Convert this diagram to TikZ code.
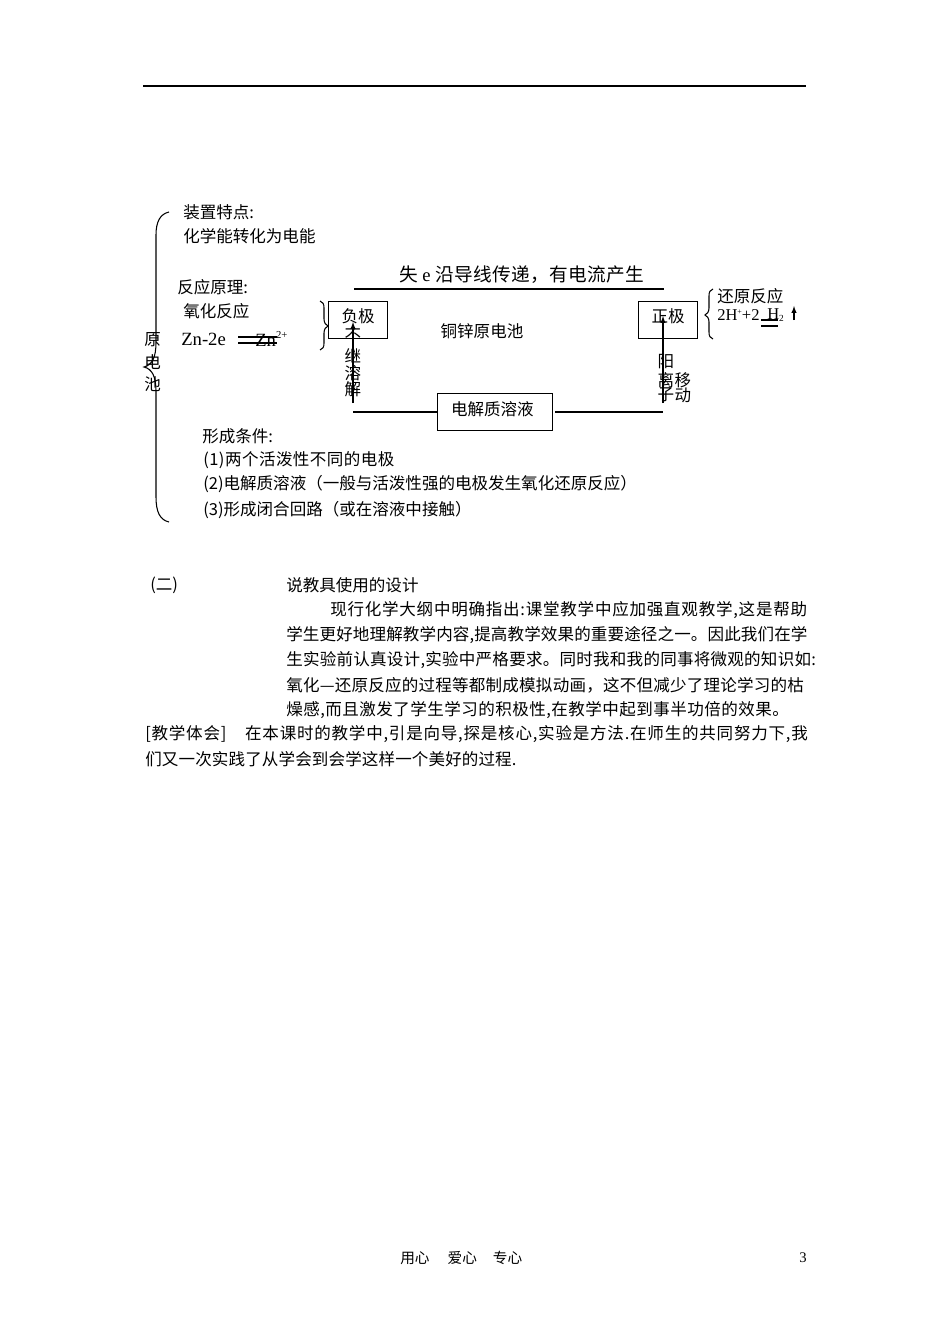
\documentclass[tikz,border=0pt]{standalone}
\usepackage{fontspec}
\setmainfont{Noto Sans CJK SC}
\newfontfamily\latinf{Liberation Serif}
\newcommand{\jline}[2]{{\addfontfeature{LetterSpace=#1}#2}}
\newcommand{\qcomma}{\symbol{"FF0C}}
\newcommand{\qopen}{\symbol{"FF08}}
\newcommand{\qclose}{\symbol{"FF09}}
\begin{document}
\begin{tikzpicture}[x=0.75pt,y=-0.75pt,
    txt/.style ={anchor=west, inner sep=0pt, font=\fontsize{12.4}{14}\selectfont},
    big/.style ={anchor=west, inner sep=0pt, font=\fontsize{14}{16}\selectfont},
    small/.style ={anchor=west, inner sep=0pt, font=\fontsize{11}{13}\selectfont},
    boxed/.style ={draw, thick, anchor=north west, inner sep=0pt, font=\fontsize{12.4}{14}\selectfont}]
   \useasboundingbox (0,0) rectangle (950,1344);
   \fill[white] (0,0) rectangle (950,1344);
   % header rule
   \coordinate (ruleL) at (143,86);
   \coordinate (ruleR) at (806,86);
   \draw[thick] (ruleL) to (ruleR);
   % big brace
   \draw[thick] (169,212) .. controls (160,214) and (156,222) .. (156,235)
      -- (156,342) .. controls (156,358) and (152,365) .. (144,367)
      .. controls (152,369) and (156,376) .. (156,392)
      -- (156,497) .. controls (156,512) and (160,520) .. (169,522);
   \node[txt] (yuan) at (144,340) {原};
   \node[txt] (dian) at (144,362) {电};
   \node[txt] (chi) at (144,384) {池};
   \node[txt] (zhuang) at (183,212) {装置特点:};
   \node[txt] (huaxue) at (183,236) {化学能转化为电能};
   \node[txt] (fanying) at (177,287) {反应原理:};
   \node[txt] (yanghua) at (183,311) {氧化反应};
   \node[big] (zn) at (181,339) {\latinf Zn-2e};
   \node[big] (znion) at (255,339) {\latinf Zn\raisebox{1ex}{\fontsize{8}{9}\selectfont 2+}};
   \coordinate (eqAL) at (238,337);
   \coordinate (eqAR) at (277,337);
   \coordinate (eqBL) at (238,343);
   \coordinate (eqBR) at (277,343);
   \draw[thick] (eqAL) to (eqAR);
   \draw[thick] (eqBL) to (eqBR);
   % boxes
   \node[boxed, minimum width=44.25pt, minimum height=27.75pt] (fu) at (328,301) {\raisebox{6pt}{负极}};
   \node[boxed, minimum width=44.25pt, minimum height=27.75pt] (zheng) at (638,301) {\raisebox{6pt}{正极}};
   \node[boxed, minimum width=86.25pt, minimum height=27.75pt] (jie) at (437,393) {\raisebox{6pt}{电解质溶液\hspace{4pt}}};
   \node[txt, anchor=center] (tong) at (482,331) {铜锌原电池};
   % top wire
   \node[big] (shi) at (399,275) {\jline{1.9}{失 {\latinf e} 沿导线传递\qcomma 有电流产生}};
   \coordinate (topL) at (354,289);
   \coordinate (topR) at (664,289);
   \draw[thick] (topL) to (topR);
   % bottom wires
   \coordinate (botL) at (353,412);
   \coordinate (botR) at (663,412);
   \draw[thick] (botL) to (jie.west |- botL);
   \draw[thick] (jie.east |- botR) ++(2,0) to (botR);
   % arrows
   \coordinate (upA) at (353,403);
   \coordinate (upB) at (353,322);
   \coordinate (upC) at (663,403);
   \coordinate (upD) at (663,316);
   \draw[thick,-latex] (upA) to (upB);
   \draw[thick,-latex] (upC) to (upD);
   \node[txt, anchor=center] (bu) at (353,336) {不};
   \node[txt, anchor=center] (ji) at (353,356) {继};
   \node[txt, anchor=center] (rong) at (353,373) {溶};
   \node[txt, anchor=center] (xie) at (353,389) {解};
   \node[txt, anchor=center] (yang) at (666,362) {阳};
   \node[txt, anchor=center] (li) at (666,380) {离};
   \node[txt, anchor=center] (zi) at (666,395) {子};
   \node[txt, anchor=center] (yi) at (683,380) {移};
   \node[txt, anchor=center] (dong) at (683,395) {动};
   % small braces
   \draw[thick] (320,301) .. controls (323,302) and (324,304) .. (324,308)
      -- (324,319) .. controls (324,323) and (326,325) .. (328,326)
      .. controls (326,327) and (324,329) .. (324,333)
      -- (324,343) .. controls (324,347) and (323,349) .. (320,350);
   \draw[thick] (713,289) .. controls (710,290) and (709,292) .. (709,296)
      -- (709,308) .. controls (709,312) and (707,314) .. (705,315)
      .. controls (707,316) and (709,318) .. (709,322)
      -- (709,332) .. controls (709,336) and (710,338) .. (713,339);
   \node[txt] (huan) at (717,296) {还原反应};
   \node[txt] (hplus) at (717,315) {\latinf 2H\raisebox{.8ex}{\fontsize{6}{7}\selectfont +}+2};
   \node[txt] (htwo) at (767,315) {\latinf H\raisebox{-.3ex}{\fontsize{7}{8}\selectfont 2}};
   \coordinate (eqCL) at (761,320);
   \coordinate (eqCR) at (778,320);
   \coordinate (eqDL) at (761,326);
   \coordinate (eqDR) at (778,326);
   \draw[thick] (eqCL) to (eqCR);
   \draw[thick] (eqDL) to (eqDR);
   \coordinate (gasA) at (794,320);
   \coordinate (gasB) at (794,306);
   \draw[thick,-latex] (gasA) to (gasB);
   % conditions
   \node[txt] (xing) at (202,436) {形成条件:};
   \node[txt] (one) at (203,460) {\jline{2.8}{(1)两个活泼性不同的电极}};
   \node[txt] (two) at (203,484) {(2)电解质溶液\qopen 一般与活泼性强的电极发生氧化还原反应\qclose};
   \node[txt] (three) at (203,510) {(3)形成闭合回路\qopen 或在溶液中接触\qclose};
   % body text
   \node[txt] (er) at (150,585) {(二)};
   \node[txt] (shuo) at (286,585) {说教具使用的设计};
   \node[txt] (lineA) at (330,610) {\jline{4.6}{现行化学大纲中明确指出:课堂教学中应加强直观教学,这是帮助}};
   \node[txt] (lineB) at (286,635) {\jline{0.8}{学生更好地理解教学内容,提高教学效果的重要途径之一。因此我们在学}};
   \node[txt] (lineC) at (286,660) {\jline{1.5}{生实验前认真设计,实验中严格要求。同时我和我的同事将微观的知识如:}};
   \node[txt] (lineD) at (286,685) {\jline{1.4}{氧化—还原反应的过程等都制成模拟动画\qcomma 这不但减少了理论学习的枯}};
   \node[txt] (lineE) at (286,710) {\jline{2.8}{燥感,而且激发了学生学习的积极性,在教学中起到事半功倍的效果。}};
   \node[txt] (lineF) at (145,734) {\jline{4.7}{[教学体会]\hspace{14pt}在本课时的教学中,引是向导,探是核心,实验是方法.在师生的共同努力下,我}};
   \node[txt] (lineG) at (145,759) {\jline{0.8}{们又一次实践了从学会到会学这样一个美好的过程.}};
   % footer
   \node[small] (foot) at (400,1258) {用心\hspace{13.5pt}爱心\hspace{12pt}专心};
   \node[small] (page) at (799,1258) {\latinf 3};
 \end{tikzpicture}
\end{document}
